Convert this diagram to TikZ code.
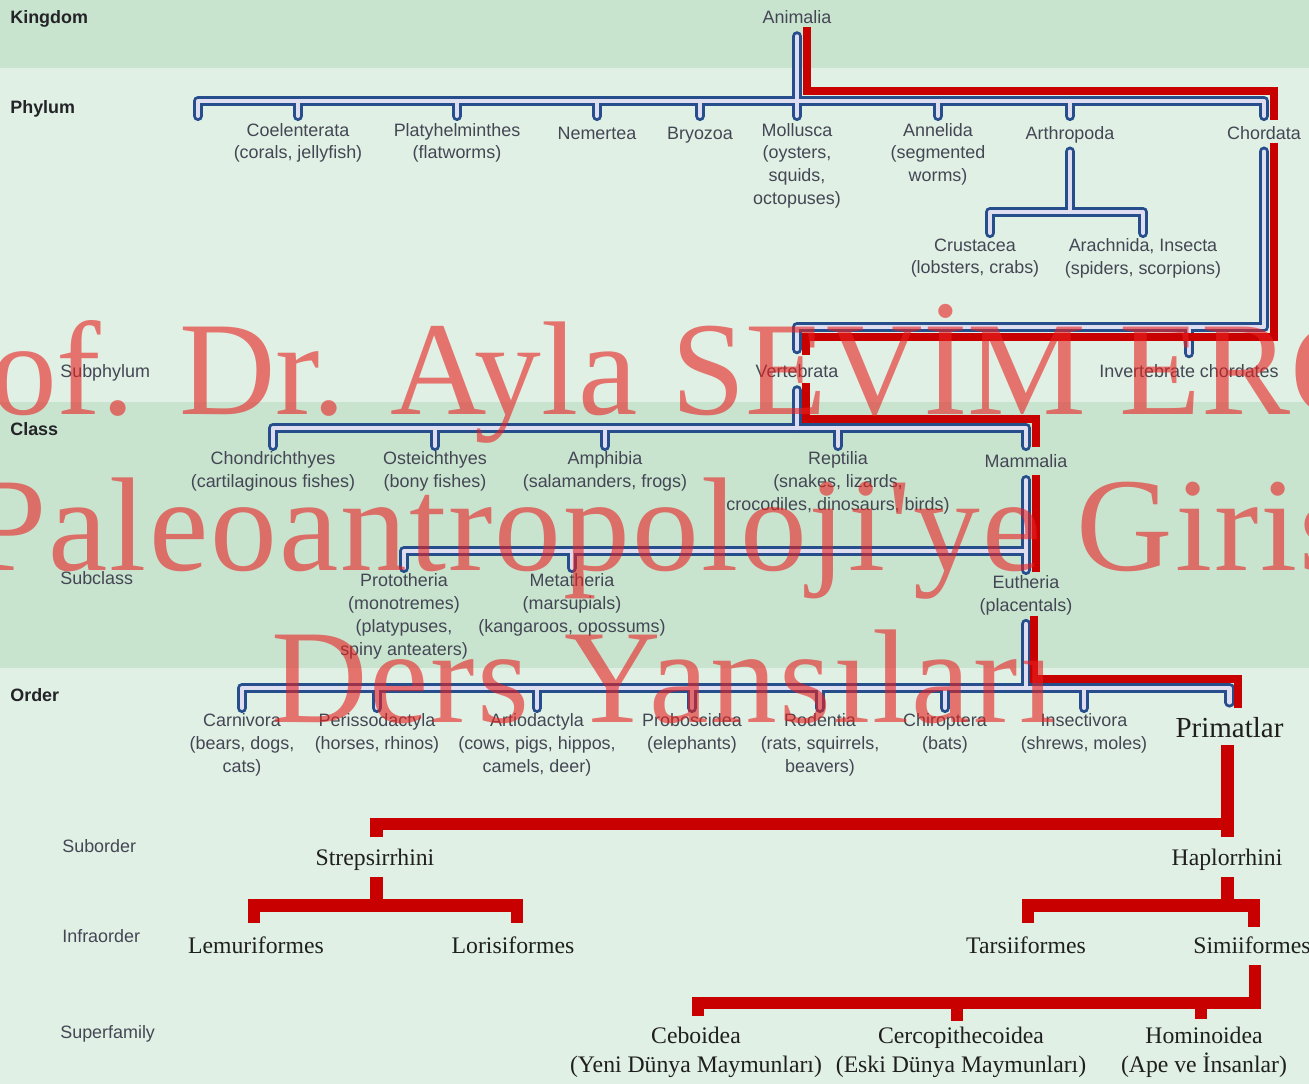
\documentclass[tikz,border=0pt]{standalone}
\usepackage{fontspec}
\setmainfont{Liberation Serif}
\setsansfont{Liberation Sans}
\newfontfamily\wmfont{Liberation Serif}[Ligatures=ResetAll]
\usetikzlibrary{calc}

\definecolor{bandgreen}{RGB}{200,228,207}
\definecolor{bandpale}{RGB}{224,240,228}
\definecolor{bluedk}{RGB}{38,78,140}
\definecolor{bluelt}{RGB}{222,222,240}
\definecolor{treered}{RGB}{200,0,0}
\definecolor{labelgray}{RGB}{68,70,84}
\definecolor{headgray}{RGB}{35,35,40}
\definecolor{wmred}{RGB}{232,32,32}

\newcommand{\taxfont}{\sffamily\fontsize{10.2}{13}\selectfont}
\newcommand{\primfont}{\rmfamily\fontsize{13.5}{16}\selectfont}

\begin{document}
\begin{tikzpicture}[x=0.02cm, y=-0.02cm,
  taxon/.style={font=\taxfont, text=labelgray, align=center, anchor=north,
    inner sep=3pt, execute at begin node=\strut},
  primate/.style={font=\primfont, text=black!88, align=center, anchor=north,
    inner sep=0pt, execute at begin node=\strut},
  rank/.style={font=\taxfont\bfseries, text=headgray, anchor=base west, inner sep=0pt},
  subrank/.style={font=\taxfont, text=labelgray, anchor=base west, inner sep=0pt},
  bluebranch/.style={draw=bluedk, line width=5.8pt, line cap=round, line join=round,
    postaction={draw=bluelt, line width=2.3pt}},
  redbranch/.style={draw=treered, line width=4.8pt, line cap=butt, line join=miter},
  redthick/.style={redbranch, line width=7pt},
  watermark/.style={font=\wmfont\fontsize{76}{80}\selectfont, text=wmred,
    opacity=0.6, anchor=base, inner sep=0pt}]

  \useasboundingbox (0,0) rectangle (1309,1084);

  % --- Background bands ---
  \fill[bandgreen] (0,0) rectangle (1309,68);
  \fill[bandpale] (0,68) rectangle (1309,402);
  \fill[bandgreen] (0,402) rectangle (1309,668);
  \fill[bandpale] (0,668) rectangle (1309,1084);

  % --- Rank names ---
  \node[rank] (kingdom) at (10,23.5) {Kingdom};
  \node[rank] (phylum) at (10,113.5) {Phylum};
  \node[subrank] (subphylum) at (60,377.5) {Subphylum};
  \node[rank] (class) at (10,435.5) {Class};
  \node[subrank] (subclass) at (60,584.5) {Subclass};
  \node[rank] (order) at (10,701.5) {Order};
  \node[subrank] (suborder) at (62,852.5) {Suborder};
  \node[subrank] (infraorder) at (62,942.5) {Infraorder};
  \node[subrank] (superfamily) at (60,1038.5) {Superfamily};

  % --- Kingdom and phyla ---
  \node[taxon] (animalia) at (797,2.2) {Animalia};
  \node[taxon] (coel) at (298,117.5) {Coelenterata\\(corals, jellyfish)};
  \node[taxon] (platy) at (457,117.5) {Platyhelminthes\\(flatworms)};
  \node[taxon] (nemer) at (597,117.5) {Nemertea};
  \node[taxon] (bryo) at (700,117.5) {Bryozoa};
  \node[taxon] (mollu) at (797,117.5) {Mollusca\\(oysters,\\squids,\\octopuses)};
  \node[taxon] (annel) at (938,117.5) {Annelida\\(segmented\\worms)};
  \node[taxon] (arthro) at (1070,117.5) {Arthropoda};
  \node[taxon] (chord) at (1264,117.5) {Chordata};
  \node[taxon] (crust) at (975,233) {Crustacea\\(lobsters, crabs)};
  \node[taxon] (arach) at (1143,233) {Arachnida, Insecta\\(spiders, scorpions)};

  % --- Subphylum and class ---
  \node[taxon] (vert) at (797,356.2) {Vertebrata};
  \node[taxon] (invch) at (1189,356.2) {Invertebrate chordates};
  \node[taxon] (chond) at (273,446) {Chondrichthyes\\(cartilaginous fishes)};
  \node[taxon] (oste) at (435,446) {Osteichthyes\\(bony fishes)};
  \node[taxon] (amph) at (605,446) {Amphibia\\(salamanders, frogs)};
  \node[taxon] (rept) at (838,446) {Reptilia\\(snakes, lizards,\\crocodiles, dinosaurs, birds)};
  \node[taxon] (mamm) at (1026,446) {Mammalia};

  % --- Subclass and order ---
  \node[taxon] (proto) at (404,568) {Prototheria\\(monotremes)\\(platypuses,\\spiny anteaters)};
  \node[taxon] (meta) at (572,568) {Metatheria\\(marsupials)\\(kangaroos, opossums)};
  \node[taxon] (euth) at (1026,570) {Eutheria\\(placentals)};
  \node[taxon] (carn) at (242,708) {Carnivora\\(bears, dogs,\\cats)};
  \node[taxon] (peri) at (377,708) {Perissodactyla\\(horses, rhinos)};
  \node[taxon] (artio) at (537,708) {Artiodactyla\\(cows, pigs, hippos,\\camels, deer)};
  \node[taxon] (prob) at (692,708) {Proboscidea\\(elephants)};
  \node[taxon] (rod) at (820,708) {Rodentia\\(rats, squirrels,\\beavers)};
  \node[taxon] (chir) at (945,708) {Chiroptera\\(bats)};
  \node[taxon] (insec) at (1084,708) {Insectivora\\(shrews, moles)};
  \node[primate, font=\rmfamily\fontsize{16.5}{20}\selectfont, inner ysep=5.9pt]
    (prim) at (1229.5,702.5) {Primatlar};

  % --- Primates ---
  \node[primate] (strep) at (375,845.15) {Strepsirrhini};
  \node[primate] (haplo) at (1227,845.15) {Haplorrhini};
  \node[primate] (lemur) at (256,933.15) {Lemuriformes};
  \node[primate] (loris) at (513,933.15) {Lorisiformes};
  \node[primate] (tars) at (1026,933.15) {Tarsiiformes};
  \node[primate] (simii) at (1252,933.15) {Simiiformes};
  \node[primate] (cebo) at (696,1027.15) {Ceboidea\\(Yeni Dünya Maymunları)};
  \node[primate] (cerco) at (961,1027.15) {Cercopithecoidea\\(Eski Dünya Maymunları)};
  \node[primate] (homi) at (1204,1027.15) {Hominoidea\\(Ape ve İnsanlar)};

  % bar levels
  \coordinate (phybar) at (0,101);
  \coordinate (phyend) at (198,116);
  \coordinate (arthbar) at (0,212);
  \coordinate (subpbar) at (0,327);
  \coordinate (classbar) at (0,428);
  \coordinate (subcbar) at (0,551);
  \coordinate (ordbar) at (0,688);

  % --- Blue tree (one path, so the junctions merge) ---
  \draw[bluebranch]
    (animalia.south) -- (animalia.south |- phybar)
    (phyend) |- (chord.north |- phybar) -- ($(chord.north)+(0,-1.5)$)
    foreach \n in {coel,platy,nemer,bryo,mollu,annel,arthro} {(\n.north |- phybar) -- ($(\n.north)+(0,-1.5)$)}
    (arthro.south) -- (arthro.south |- arthbar)
    ($(crust.north)+(15,0)$) |- (arach.north |- arthbar) -- (arach.north)
    (chord.south) |- (vert.north |- subpbar) -- ($(vert.north)+(0,-7)$)
    (invch.north |- subpbar) -- ($(invch.north)+(0,-3)$)
    (vert.south) -- (vert.south |- classbar)
    (chond.north) |- (mamm.north |- classbar) -- (mamm.north)
    foreach \n in {oste,amph,rept} {(\n.north |- classbar) -- (\n.north)}
    (mamm.south) -- (euth.north)
    (proto.north) |- (euth.north |- subcbar)
    (meta.north |- subcbar) -- (meta.north)
    (euth.south) -- (euth.south |- ordbar)
    (carn.north) |- (prim.north |- ordbar) -- (prim.north)
    foreach \n in {peri,artio,prob,rod,chir,insec} {(\n.north |- ordbar) -- (\n.north)};

  % --- Red line of descent, Animalia to Primatlar ---
  \draw[redbranch] ($(animalia.south)+(10,-9)$) |- ($(chord.north)+(10,-26.3)$) -- ($(chord.north)+(10,2.7)$);
  \draw[redbranch] ($(chord.south)+(10,-9)$) |- ($(vert.north)+(9,-19.4)$) -- ($(vert.north)+(9,-1)$);
  \draw[redbranch] ($(vert.south)+(9,-7)$) |- ($(mamm.north)+(10,-26.8)$) -- ($(mamm.north)+(10,1.2)$);
  \draw[redbranch] ($(mamm.south)+(10,-5)$) -- ($(euth.north)+(10,2.2)$);
  \draw[redbranch] ($(euth.south)+(8,-8)$) |- ($(prim.north)+(8.5,-23.5)$) -- ($(prim.north)+(8.5,5.5)$);

  % --- Red primate tree ---
  \draw[redthick] ($(prim.south)+(-2,-13.6)$) -- ($(haplo.north)+(0.5,-8)$);
  \draw[redthick] ($(strep.north)+(1.5,-8)$) |- ($(haplo.north)+(0,-21.5)$);
  \draw[redthick] ($(strep.south)+(1.5,3)$) -- ++(0,29);
  \draw[redthick] ($(lemur.north)+(-2,-10)$) |- ($(loris.north)+(4,-27.6)$) -- ($(loris.north)+(4,-10)$);
  \draw[redthick] ($(haplo.south)+(0.5,3)$) -- ++(0,29);
  \draw[redthick] ($(tars.north)+(2,-10)$) |- ($(simii.north)+(2,-27.6)$) -- ($(simii.north)+(2,-6)$);
  \draw[redthick] ($(cebo.north)+(2,-11)$) |- ($(simii.south)+(3,41)$) -- ($(simii.south)+(3,3)$);
  \draw[redthick] ($(cerco.north)+(-4,-6)$) -- ++(0,-18.6);
  \draw[redthick] ($(homi.north)+(-3,-8)$) -- ++(0,-16.6);

  % --- Watermark ---
  \begin{scope}
    \clip (0,0) rectangle (1309,1084);
    \node[watermark] (wm1) at (670,415) {Prof. Dr. Ayla SEVİM EROL};
    \node[watermark] (wm2) at (662,570) {\addfontfeatures{LetterSpace=1.5}Paleoantropoloji'ye Giriş};
    \node[watermark] (wm3) at (664,722) {\addfontfeatures{LetterSpace=1.5}Ders Yansıları};
  \end{scope}

\end{tikzpicture}
\end{document}
